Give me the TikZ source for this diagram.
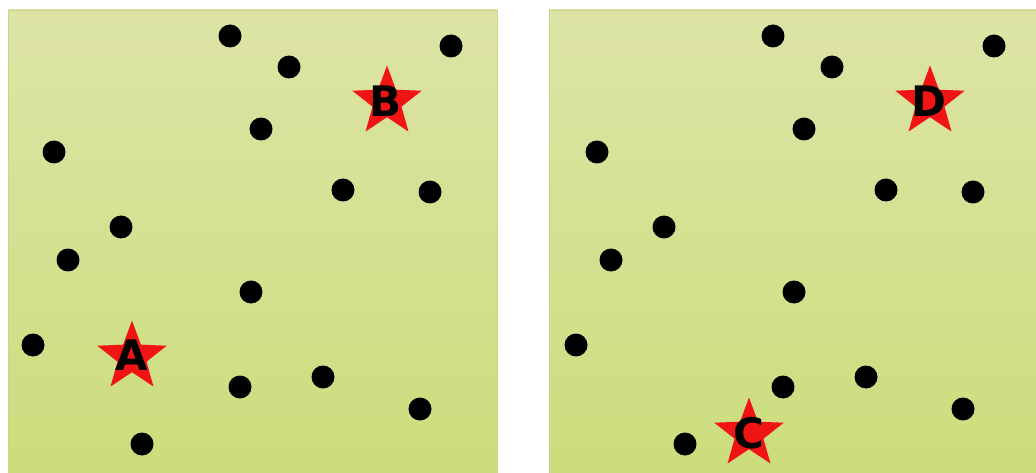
\documentclass[tikz,border=0pt]{standalone}
\usepackage{fontspec}
\setmainfont{DejaVu Sans}
\usetikzlibrary{shapes.geometric}
\definecolor{bgtop}{RGB}{221,228,166}
\definecolor{bgbot}{RGB}{204,221,124}
\definecolor{bgedge}{RGB}{200,214,140}
\definecolor{starred}{RGB}{240,20,20}
\tikzset{
  panel/.style={draw=bgedge, line width=0.8pt, top color=bgtop, bottom color=bgbot},
  dot/.style={circle, fill=black, draw=none, inner sep=0pt, minimum size=23pt},
  starshape/.style={star, star points=5, star point ratio=2.4, fill=starred, draw=none, inner sep=0pt, minimum size=73pt},
  letter/.style={inner sep=0pt, font=\fontsize{42}{42}\selectfont\bfseries, text=black}
}
\begin{document}
\begin{tikzpicture}[x=1pt,y=-1pt]
\useasboundingbox (0,0) rectangle (1036,473);
\fill[white] (0,0) rectangle (1036,473);
\foreach \ox/\nm in {0/L,541/R}{
  \path[panel] (8+\ox,10) rectangle (497+\ox,473.5);
}
\foreach \px/\py [count=\i] in {230/36,289/67,451/46,261/129,54/152,343/190,430/192,121/227,68/260,251/292,33/345,240/387,323/377,420/409,142/444}{
  \node[dot] (l\i) at (\px,\py) {};
  \node[dot] (r\i) at (\px+543,\py) {};
}
\node[starshape] (sA) at (132,357) {};
\node[letter] (tA) at (132,355) {A};
\node[starshape] (sB) at (387,102) {};
\node[letter] (tB) at (386,101) {B};
\node[starshape] (sC) at (749,434) {};
\node[letter] (tC) at (749,433) {C};
\node[starshape] (sD) at (930,102) {};
\node[letter] (tD) at (929,101) {D};
\end{tikzpicture}
\end{document}
